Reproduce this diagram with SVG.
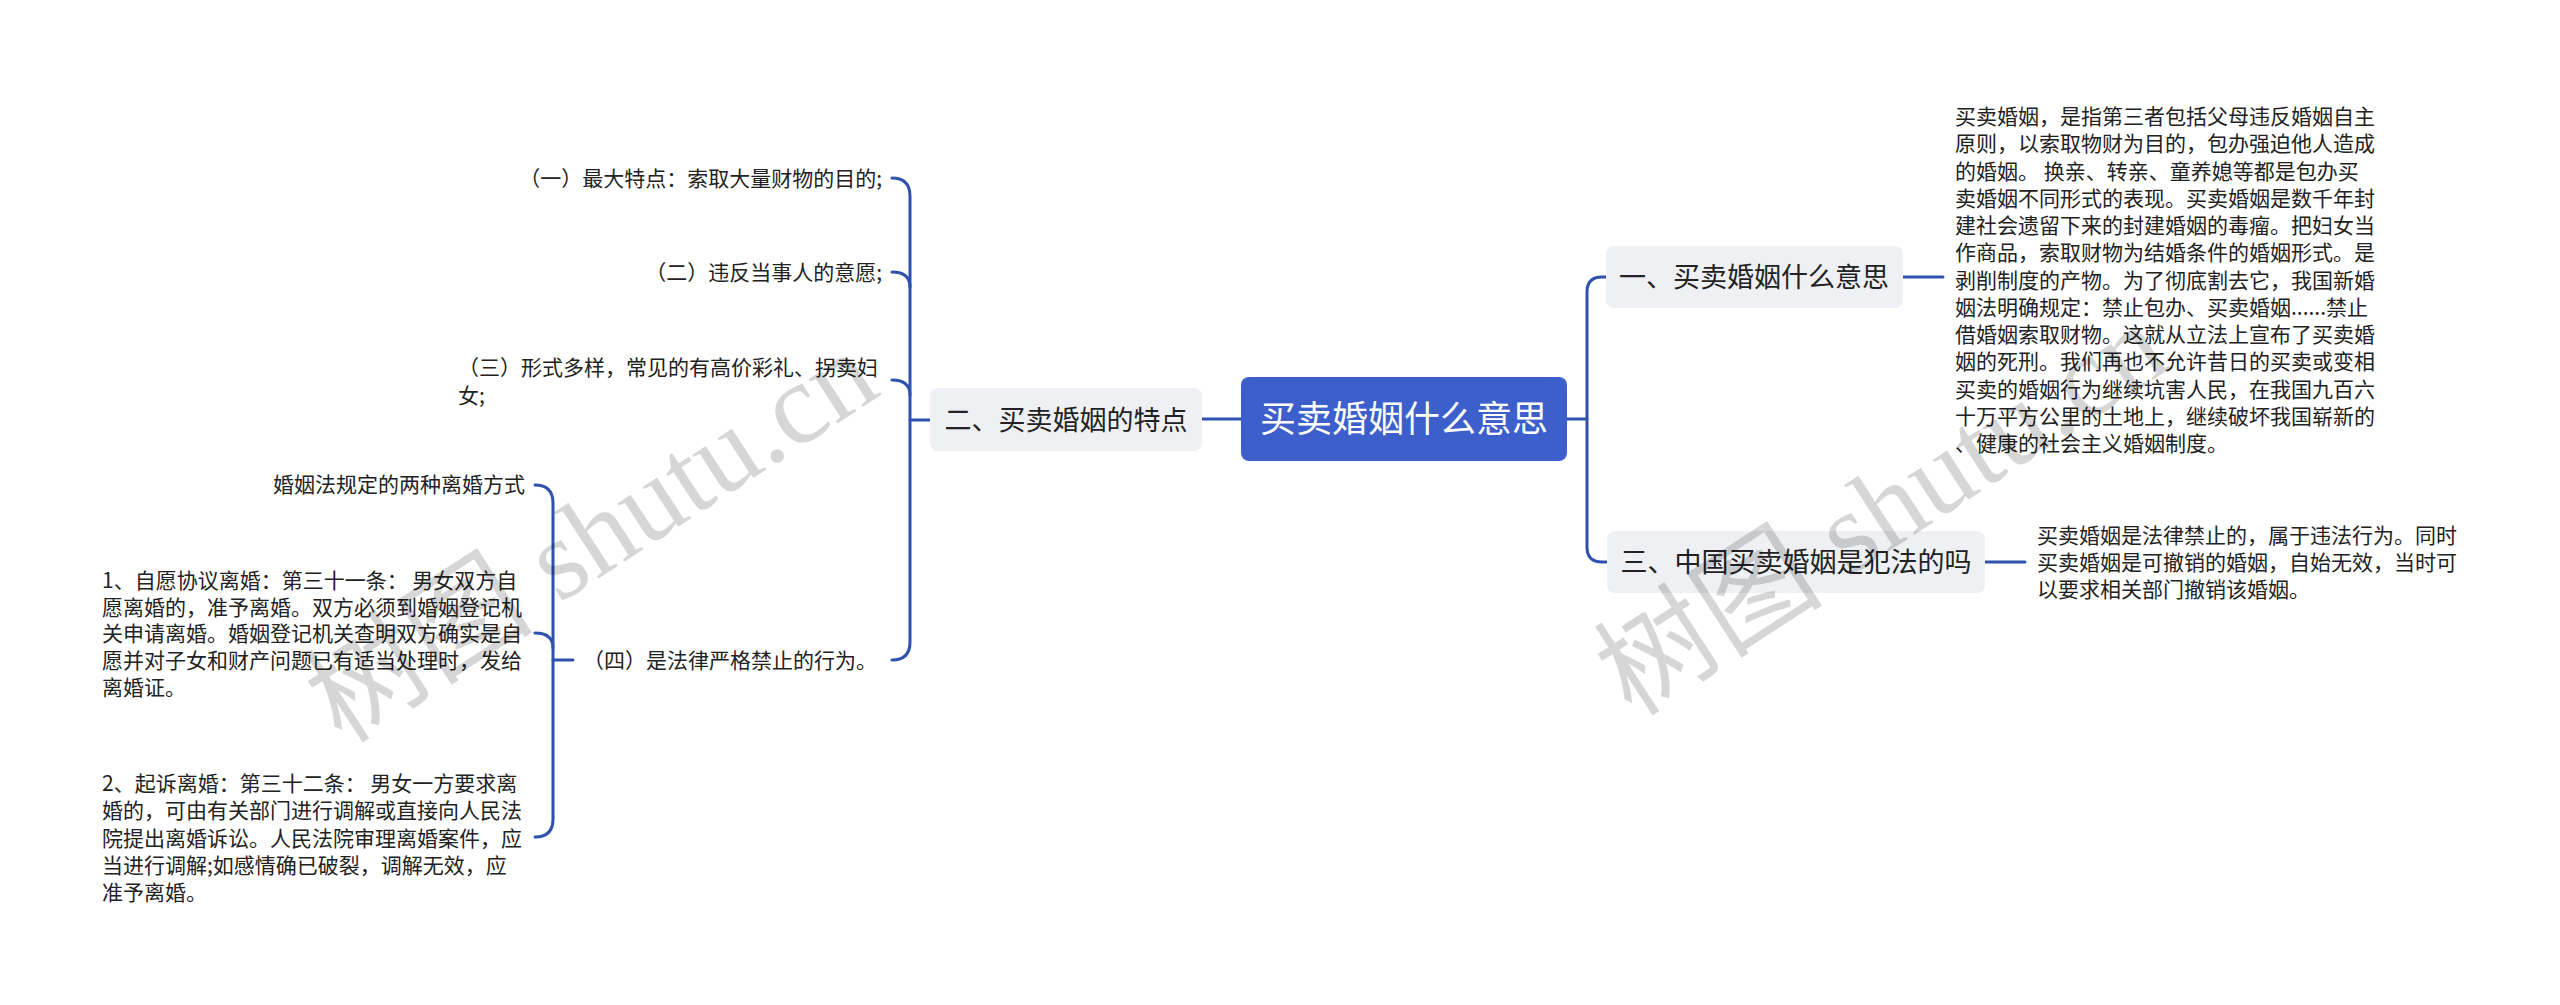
<svg xmlns="http://www.w3.org/2000/svg" width="2560" height="1005" viewBox="0 0 2560 1005">
<style>
.c{fill:none;stroke:#2f51ae;stroke-width:3;stroke-linecap:round}
.t{font-family:"Noto Sans CJK SC","Liberation Sans",sans-serif;fill:#222}
.b{font-size:21px}
.n{font-size:27px;text-anchor:middle}
.box{fill:#eef0f4}
.wm{font-family:"Liberation Serif","Noto Sans CJK SC",serif;font-size:115px;fill:#000;fill-opacity:0.16}
</style>
<rect width="2560" height="1005" fill="#ffffff"/>
<g id="connectors">
<path class="c" d="M1241,419 H1202"/>
<path class="c" d="M1567,419 H1587"/>
<path class="c" d="M1606,277 H1602 Q1587,277 1587,292 V547 Q1587,562 1602,562 H1607"/>
<path class="c" d="M1903,277 H1943"/>
<path class="c" d="M1985,562 H2025"/>
<path class="c" d="M930,420 H910"/>
<path class="c" d="M892,178 Q910,178 910,196 V642 Q910,660 892,660"/>
<path class="c" d="M892,272 Q910,272 910,287"/>
<path class="c" d="M892,380 Q910,380 910,395"/>
<path class="c" d="M573,660 H553"/>
<path class="c" d="M535,485 Q553,485 553,503 V819 Q553,837 535,837"/>
<path class="c" d="M535,633 Q553,633 553,648"/>
</g>
<g id="root">
<rect x="1241" y="377" width="326" height="84" rx="8" fill="#3d5fcc"/>
<text class="t" x="1404" y="432" font-size="36" text-anchor="middle" style="fill:#fff">买卖婚姻什么意思</text>
</g>
<g id="n2">
<rect class="box" x="930" y="388" width="272" height="63" rx="8"/>
<text class="t n" x="1066" y="430">二、买卖婚姻的特点</text>
</g>
<g id="n1">
<rect class="box" x="1606" y="246" width="297" height="62" rx="8"/>
<text class="t n" x="1754" y="287">一、买卖婚姻什么意思</text>
</g>
<g id="n3">
<rect class="box" x="1607" y="531" width="378" height="62" rx="8"/>
<text class="t n" x="1796" y="572">三、中国买卖婚姻是犯法的吗</text>
</g>
<g id="n1-detail">
<text class="t b" x="1955">
<tspan x="1955" y="124">买卖婚姻，是指第三者包括父母违反婚姻自主</tspan>
<tspan x="1955" y="151.25">原则，以索取物财为目的，包办强迫他人造成</tspan>
<tspan x="1955" y="178.5">的婚姻。 换亲、转亲、童养媳等都是包办买</tspan>
<tspan x="1955" y="205.75">卖婚姻不同形式的表现。买卖婚姻是数千年封</tspan>
<tspan x="1955" y="233">建社会遗留下来的封建婚姻的毒瘤。把妇女当</tspan>
<tspan x="1955" y="260.25">作商品，索取财物为结婚条件的婚姻形式。是</tspan>
<tspan x="1955" y="287.5">剥削制度的产物。为了彻底割去它，我国新婚</tspan>
<tspan x="1955" y="314.75">姻法明确规定：禁止包办、买卖婚姻......禁止</tspan>
<tspan x="1955" y="342">借婚姻索取财物。这就从立法上宣布了买卖婚</tspan>
<tspan x="1955" y="369.25">姻的死刑。我们再也不允许昔日的买卖或变相</tspan>
<tspan x="1955" y="396.5">买卖的婚姻行为继续坑害人民，在我国九百六</tspan>
<tspan x="1955" y="423.75">十万平方公里的土地上，继续破坏我国崭新的</tspan>
<tspan x="1955" y="451">、健康的社会主义婚姻制度。</tspan>
</text>
</g>
<g id="n3-detail">
<text class="t b">
<tspan x="2037" y="543">买卖婚姻是法律禁止的，属于违法行为。同时</tspan>
<tspan x="2037" y="570">买卖婚姻是可撤销的婚姻，自始无效，当时可</tspan>
<tspan x="2037" y="597">以要求相关部门撤销该婚姻。</tspan>
</text>
</g>
<g id="n2-1">
<text class="t b" x="882" y="186" text-anchor="end">（一）最大特点：索取大量财物的目的;</text>
</g>
<g id="n2-2">
<text class="t b" x="882" y="280" text-anchor="end">（二）违反当事人的意愿;</text>
</g>
<g id="n2-3">
<text class="t b">
<tspan x="458" y="375">（三）形式多样，常见的有高价彩礼、拐卖妇</tspan>
<tspan x="458" y="403">女;</tspan>
</text>
</g>
<g id="n2-4">
<text class="t b" x="583" y="668">（四）是法律严格禁止的行为。</text>
</g>
<g id="n2-4-1">
<text class="t b" x="525" y="492" text-anchor="end">婚姻法规定的两种离婚方式</text>
</g>
<g id="n2-4-2">
<text class="t b">
<tspan x="102" y="588">1、自愿协议离婚：第三十一条： 男女双方自</tspan>
<tspan x="102" y="615">愿离婚的，准予离婚。双方必须到婚姻登记机</tspan>
<tspan x="102" y="641">关申请离婚。婚姻登记机关查明双方确实是自</tspan>
<tspan x="102" y="668">愿并对子女和财产问题已有适当处理时，发给</tspan>
<tspan x="102" y="695">离婚证。</tspan>
</text>
</g>
<g id="n2-4-3">
<text class="t b">
<tspan x="102" y="791">2、起诉离婚：第三十二条： 男女一方要求离</tspan>
<tspan x="102" y="818">婚的，可由有关部门进行调解或直接向人民法</tspan>
<tspan x="102" y="846">院提出离婚诉讼。人民法院审理离婚案件，应</tspan>
<tspan x="102" y="873">当进行调解;如感情确已破裂，调解无效，应</tspan>
<tspan x="102" y="900">准予离婚。</tspan>
</text>
</g>
<g id="watermarks">
<text class="wm" transform="translate(342,745) rotate(-33)">树图 shutu.cn</text>
<text class="wm" transform="translate(1632,718) rotate(-33)">树图 shutu.cn</text>
</g>
</svg>
